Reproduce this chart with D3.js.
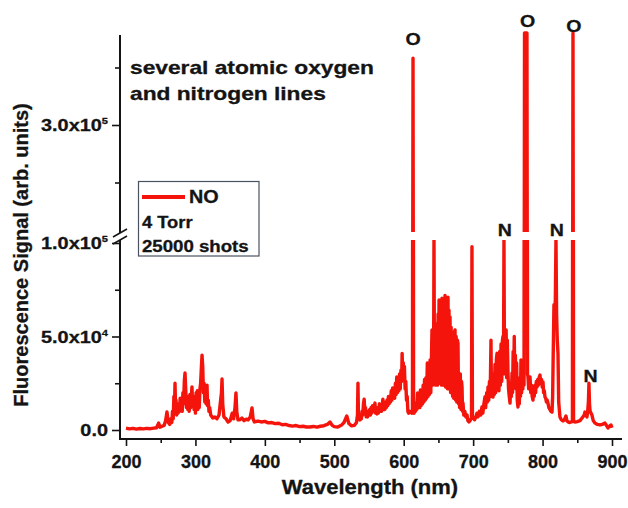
<!DOCTYPE html>
<html>
<head>
<meta charset="utf-8">
<script src="https://cdn.jsdelivr.net/npm/d3@7"></script>
<style>
  html, body { margin: 0; padding: 0; background: #ffffff; }
  svg { display: block; font-family: "Liberation Sans", Arial, sans-serif; font-weight: bold; }
  svg text { stroke: #141414; stroke-width: 0.3px; }
</style>
</head>
<body>
<svg id="chart" width="628" height="508"></svg>
<script>
// NO fluorescence spectrum, 4 Torr, 25000 shots
// each entry: [wavelength (nm), signal in units of 10^3 (arb. units)]
const spectrum = [
  [200,1.0],[205,0.6],[210,0.9],[215,0.5],[220,0.8],[225,0.6],[230,0.9],[235,0.7],[240,1.0],[244,1.2],
  [247,3.7],[249,1.5],[252,2.0],[255,2.5],[257,5],[259,9.6],[261,4],[263,3],
  [265,6],[266,4],[267,10],[268,6],[269,18],[270,14],[270.6,25],[271.3,13],[272,16],[273,8],[274,11],[275,9],
  [276,14],[277,10],[278,17],[279,11],[280,13],[281,10],[282,20],[283,14],[284,26],[285,30.5],[286,22],[287,12],
  [288,18],[289,11],[290,15],[291,10],[292,19],[293,12],[294,17],[295,23],[296,13],[297,18],[298,11],[299,17],
  [300,9],[301,20],[302,13],[302.7,21],[303.5,11],[304.5,16],[305.5,12],[306.5,22],[307.5,25],[308.5,33],
  [309.5,40],[310.5,34],[311.5,20],[312.5,25],[313.5,15],[314.5,23],[315.5,14],[316.7,24],[317.5,13],[318.5,16],
  [319.5,10],[320.5,12],[322,8],
  [325,6.4],[328,7],[331,6],[334,8],[336,15],[337.5,20],[338.3,27.3],[339.3,14],[341,7],[344,6],[347,4.3],
  [350,5],[353,9],[355,6],[357,12],[358.4,19.8],[359.5,10],[361.3,5.4],[364,5.5],[367,6.4],[370,5],[373,5.8],
  [376,5.4],[379,7],[381.5,11.8],[383,6],[385,4.3],
  [390,4.8],[395,4.3],[400,4.6],[405,3.8],[410,4.0],[415,3.4],[420,3.6],[425,2.8],[430,3.0],[435,2.4],[440,2.1],
  [445,2.4],[450,1.8],[455,2.0],[460,1.6],[465,1.6],[470,1.9],[475,1.5],[480,2.0],[485,2.3],[490,3.0],[493.8,4.3],
  [497,2.5],[500,1.8],[505,1.6],[510,2.5],[514,4],[518,7.5],[521,3.5],[525,2.2],[529,2.5],[532,4],[533.4,8],
  [534.1,25],[534.8,8],
  [537,5.4],[538,8],[539,6],[540,10],[541,8],[542,14],[543,16.5],[544,10],[545,12],[546,7],[547,9],[548,7],
  [549,10],[550,8],[551,11],[552,8],[553,12],[554,9],[555,13],[556,10],[557,12],[558.6,14.4],[559.5,9],[560.5,12],
  [561.5,8.6],[562.5,11],[563.5,9],[565,14],[566,10],[567,13],[568,10],[570,16.5],[571,11],[572,14],[573,11],
  [574,15],[575,12],[576,16],[577,13],[578,18],[579,14],[580,18],[581,15],[582,21],[583,16],[584,22.5],[585,18],
  [586,21],[587,17],[588,25],[589,19],[590,28.4],[591,20],[592,27],[593,21],[594,30],[595,22],[596,32],[597,26],
  [597.7,41],[598.5,30],[599.3,36],[600.2,27],[601,34],[602,22],[603,26],[604,16],[605,18],[606,10],[607,9],
  [609,10],[611.5,9],[612.6,10],[613.4,358],[614.2,10],
  [615,9],[616,14.4],[617,10],[618,13],[619,11],[620,19.8],[621,12],[622,16],[623,12],[624,21.4],[625,13],
  [626,20],[627,14],[628,24],[629,15],[630,27],[631,16],[632,28],[633,17],[634,35.8],[635,18],[636,33],[637,19],
  [638,37.5],[639,20],[640,40],[640.7,53.5],[641.5,24],[642.3,45],[643,30],[643.6,102],[644.3,28],[645,50],
  [645.8,24],[646.6,55],[647.3,25],[648,57],[648.7,24],[649.5,62],[650.2,26],[650.9,69.5],[651.6,25],[652.3,60],
  [653,26],[653.7,59],[654.4,24],[655.1,70.5],[655.8,25],[656.5,66],[657.2,24],[658,68],[658.8,25],[659.5,72],
  [660.3,23],[661,66],[661.6,24],[662.3,66],[663,22],[663.8,71],[664.5,22],[665.2,64],[666,22],[666.7,60.5],
  [667.5,20],[668.3,55],[669,20],[669.6,48],[670.4,18],[671.2,50],[672,17],[672.8,52],[673.9,53.5],[674.7,16],
  [675.5,50],[676.4,15],[677.3,48],[678.2,46.5],[679,14],[679.6,28.4],[680.5,12],[681.5,30],[682.5,11],
  [683.3,26],[684,23],[684.7,10],[685.4,14.4],[686.5,8],[688,10],[689.5,7],[691.2,8],[692.5,5],[694,4.3],
  [695.5,5],[697,6],[697.6,6],[698.3,98],[699,7],
  [699.8,7],[702,5.5],[704,7],[705.5,9],[707,7],[709,10],[711,8],[712.7,12.3],[714,9],[715.5,14],[717,17.6],
  [718,12],[719.5,20],[720.5,15],[721.4,23],[722.5,16],[723.5,26],[724.3,18],[725,30],[725.7,48],[726.4,18],
  [727.5,26],[728.6,17.6],[729.5,30],[730.5,19],[731.5,35],[732.5,20],[733.5,38],[734.4,41],[735.3,22],
  [736.2,36],[737.2,21],[738.2,42],[739.2,24],[740.2,46],[741.2,26],[742.2,48],[743,50],[743.7,30],[744.4,102],
  [745.1,34],[746,50],[746.8,30],[747.5,53.5],[748.3,28],[749.2,48],[750.2,30],[751,22],[752,18],[753.1,14.4],
  [754,22],[755,18],[756,30.5],[756.8,20],[757.6,42],[758.4,25],[759.2,50],[760,28],[760.8,40],[761.7,22],
  [762.6,35.8],[763.5,16],[764.6,12.3],[765.5,18],[766.5,14],[767.3,28],[768.2,18],[768.9,37.5],[769.8,20],
  [770.8,30],[771.6,22],[772.5,30],[773.3,24],[774,380],[775,380],[776,380],[777.5,380],[778.3,30],[779,28.4],
  [780,22],[781.9,28.4],[783,20],[784,24],[785,18],[786.2,16],[787,22],[788,18],[789,24],[790,20],[791,26],
  [792,23],[793,27],[794,24],[795,28],[796.3,29.4],[797.3,25],[798.5,27],[799.5,23],[800.6,25.7],[801.5,20],
  [802.5,21],[803.5,17.6],[804.5,17],[805.5,15],[806.7,16],[807.8,14.4],[809,12],[810.5,11],[812,10],
  [813.6,9.6],[814.5,18],[815.3,40],[816.4,67],[817.5,60],[818.4,70],[819.3,102],[820.2,62],[821.2,48],
  [822.2,41],[823.2,15],[825,7],[827,5.5],[829.4,4.8],[831.5,5.5],[833.7,7.5],[835,5],[836.6,4.3],[839,4],
  [841,4.3],[843,4.5],[843.8,380],[844.6,4.5],[846.6,4.3],[850,4.5],[853.9,5],[856,6],[858,7],[860,8],
  [861,9.6],[862.5,8],[863.9,7],[865,10],[866,15],[866.8,25],[867.6,14],[868.5,10],[871.1,8],[873,5],
  [875.4,3.7],[879,3],[882.7,2.7],[886,3],[889.9,3.7],[892,2.5],[894.2,1.1],[896,2],[898.6,2.7],[900,1.2]
];

const xTicks = [200, 300, 400, 500, 600, 700, 800, 900];
const xMinorTicks = [250, 350, 450, 550, 650, 750, 850];
const lowerTicks = [0, 50000, 100000];
const lowerMinorTicks = [25000, 75000];
const upperTicks = [300000];
const upperMinorTicks = [250000, 350000];
const tickMantissa = { 0: "0.0", 50000: "5.0x10", 100000: "1.0x10", 300000: "3.0x10" };
const tickExponent = { 0: "", 50000: "4", 100000: "5", 300000: "5" };

// atomic line labels: element, wavelength (nm), signal level of the label baseline
const lineLabelText = ["O", "O", "O", "N", "N", "N"];
const lineLabelWl = [613.4, 778.5, 845, 745.5, 820.5, 869];
const lineLabelLevel = [370000, 385000, 381000, 103700, 103700, 25500];

const seriesName = "NO";
const legendNotes = ["4 Torr", "25000 shots"];
const annotation = ["several atomic oxygen", "and nitrogen lines"];
const xTitle = "Wavelength (nm)";
const yTitle = "Fluorescence Signal (arb. units)";

const data = spectrum.map(p => ({ wl: p[0], v: p[1] * 1000 }));

const svg = d3.select("#chart");
const ink = "#141414";
const red = "#f4140c";

// scales: one x scale, two y segments around the axis break
const x = d3.scaleLinear().domain([200, 900]).range([126, 612]);
const yLow = d3.scaleLinear().domain([0, 100000]).range([430, 243]);
const yUp = d3.scaleLinear().domain([250000, 350000]).range([182.5, 67.5]);

const defs = svg.append("defs");
defs.append("clipPath").attr("id", "clipLow")
  .append("rect").attr("x", 121).attr("y", 240).attr("width", 505).attr("height", 200);
defs.append("clipPath").attr("id", "clipUp")
  .append("rect").attr("x", 121).attr("y", 0).attr("width", 505).attr("height", 232);

function stretched(parent, tx, ty, sx, anchor, size, txt) {
  return parent.append("g")
    .attr("transform", `translate(${tx},${ty}) scale(${sx},1)`)
    .append("text")
    .attr("text-anchor", anchor)
    .attr("font-size", size)
    .attr("fill", ink)
    .text(txt);
}

// spectrum, drawn once per y segment
const lineLow = d3.line().x(d => x(d.wl)).y(d => yLow(d.v));
const lineUp = d3.line().x(d => x(d.wl)).y(d => yUp(d.v));
svg.append("path").datum(data).attr("clip-path", "url(#clipLow)")
  .attr("d", lineLow).attr("fill", "none").attr("stroke", red)
  .attr("stroke-width", 3.4).attr("stroke-linejoin", "round");
svg.append("path").datum(data).attr("clip-path", "url(#clipUp)")
  .attr("d", lineUp).attr("fill", "none").attr("stroke", red)
  .attr("stroke-width", 3.4).attr("stroke-linejoin", "round");

// x axis
const xAxisY = 439;
const gx = svg.append("g").attr("transform", `translate(0,${xAxisY})`)
  .call(d3.axisBottom(x).tickValues(xTicks).tickSize(7).tickSizeOuter(0).tickPadding(9).tickFormat(d3.format("d")));
gx.select(".domain").remove();
gx.selectAll(".tick line").attr("stroke", ink).attr("stroke-width", 1.6);
gx.selectAll(".tick text").attr("font-size", 18).attr("font-family", "Liberation Sans, Arial, sans-serif")
  .attr("font-weight", "bold").attr("fill", ink);
const gxm = svg.append("g").attr("transform", `translate(0,${xAxisY})`)
  .call(d3.axisBottom(x).tickValues(xMinorTicks).tickSize(4).tickSizeOuter(0).tickFormat(""));
gxm.select(".domain").remove();
gxm.selectAll(".tick line").attr("stroke", ink).attr("stroke-width", 1.6);
svg.append("line").attr("x1", 120).attr("x2", 622).attr("y1", xAxisY).attr("y2", xAxisY)
  .attr("stroke", ink).attr("stroke-width", 2);

// y axis segments
const axisX = 120;
function yTicks(scale, major, minor) {
  const g1 = svg.append("g").attr("transform", `translate(${axisX},0)`)
    .call(d3.axisLeft(scale).tickValues(major).tickSize(8).tickSizeOuter(0).tickFormat(""));
  g1.select(".domain").remove();
  g1.selectAll(".tick line").attr("stroke", ink).attr("stroke-width", 1.6);
  const g2 = svg.append("g").attr("transform", `translate(${axisX},0)`)
    .call(d3.axisLeft(scale).tickValues(minor).tickSize(5).tickSizeOuter(0).tickFormat(""));
  g2.select(".domain").remove();
  g2.selectAll(".tick line").attr("stroke", ink).attr("stroke-width", 1.6);
  major.forEach(v => {
    const t = stretched(svg, 108, scale(v) + 6, 1.17, "end", 17, null);
    t.append("tspan").text(tickMantissa[v]);
    if (tickExponent[v]) {
      t.append("tspan").attr("font-size", 9.5).attr("dy", -7).text(tickExponent[v]);
    }
  });
}
yTicks(yLow, lowerTicks, lowerMinorTicks);
yTicks(yUp, upperTicks, upperMinorTicks);

svg.append("line").attr("x1", axisX).attr("x2", axisX).attr("y1", 35).attr("y2", 233)
  .attr("stroke", ink).attr("stroke-width", 2);
svg.append("line").attr("x1", axisX).attr("x2", axisX).attr("y1", 240).attr("y2", xAxisY + 1)
  .attr("stroke", ink).attr("stroke-width", 2);
// break marks
[[113, 237, 127, 229], [113, 244, 127, 236]].forEach(s => {
  svg.append("line").attr("x1", s[0]).attr("y1", s[1]).attr("x2", s[2]).attr("y2", s[3])
    .attr("stroke", ink).attr("stroke-width", 1.6);
});

// axis titles
stretched(svg, 370, 494, 1.1, "middle", 20, xTitle);
svg.append("text").attr("transform", "translate(28,255) rotate(-90)")
  .attr("text-anchor", "middle").attr("font-size", 20).attr("fill", ink).text(yTitle);

// annotation
stretched(svg, 130, 74, 1.23, "start", 18.5, annotation[0]);
stretched(svg, 130, 100, 1.23, "start", 18.5, annotation[1]);

// legend
svg.append("rect").attr("x", 138.5).attr("y", 181.5).attr("width", 120.5).attr("height", 74.5)
  .attr("fill", "#ffffff").attr("stroke", "#4a5262").attr("stroke-width", 1.2);
svg.append("line").attr("x1", 142).attr("x2", 185).attr("y1", 197).attr("y2", 197)
  .attr("stroke", red).attr("stroke-width", 4);
stretched(svg, 189, 203, 1.1, "start", 18, seriesName);
stretched(svg, 142, 228, 1.11, "start", 16.5, legendNotes[0]);
stretched(svg, 142, 252, 1.13, "start", 16.5, legendNotes[1]);

// atomic line labels
lineLabelText.forEach((t, i) => {
  const lv = lineLabelLevel[i];
  const yy = lv > 150000 ? yUp(lv) : yLow(lv);
  stretched(svg, x(lineLabelWl[i]), yy, 1.15, "middle", 17, t);
});
</script>
</body>
</html>
